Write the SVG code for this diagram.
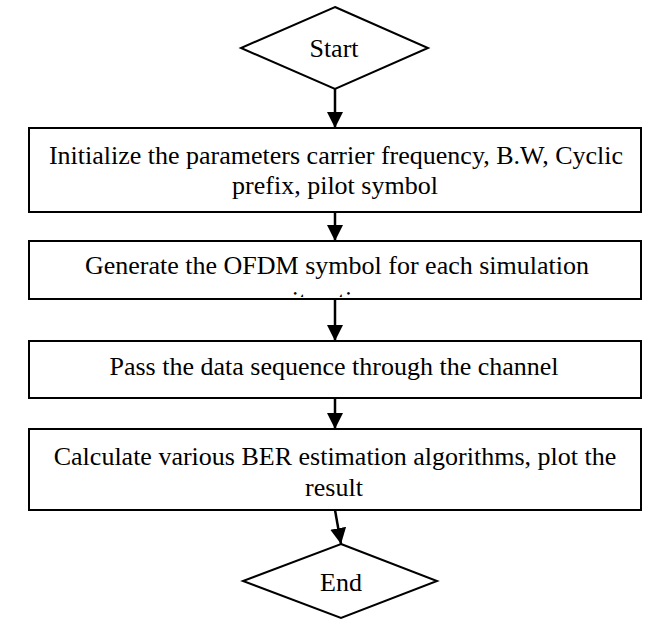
<svg xmlns="http://www.w3.org/2000/svg" width="646" height="620" viewBox="0 0 646 620">
<style>
.shape{fill:#fff;stroke:#000;stroke-width:2}
.t{font-family:"Liberation Serif","Times New Roman",serif;font-size:26px;fill:#000;text-anchor:middle}
.c{stroke:#000;stroke-width:2.5;fill:none}
</style>
<defs>
<marker id="ah" viewBox="0 0 16 16" refX="16" refY="8" markerWidth="16" markerHeight="16" markerUnits="userSpaceOnUse" orient="auto">
<path d="M0,0 L16,8 L0,16 z" fill="#000"/>
</marker>
<clipPath id="clip2"><rect x="29" y="241" width="612" height="56"/></clipPath>
</defs>
<rect width="646" height="620" fill="#fff"/>
<g id="start">
<polygon class="shape" points="335,7 428,48 335,89 241,48"/>
<text class="t" x="334" y="57">Start</text>
</g>
<g id="init">
<rect class="shape" x="29" y="128" width="612" height="84"/>
<text class="t" x="336" y="164">Initialize the parameters carrier frequency, B.W, Cyclic</text>
<text class="t" x="335" y="194">prefix, pilot symbol</text>
</g>
<g id="generate">
<rect class="shape" x="29" y="241" width="612" height="58"/>
<g clip-path="url(#clip2)">
<text class="t" x="337" y="274">Generate the OFDM symbol for each simulation</text>
<text class="t" x="335" y="309">iteration</text>
</g>
</g>
<g id="pass">
<rect class="shape" x="29" y="341" width="612" height="57"/>
<text class="t" x="334" y="375">Pass the data sequence through the channel</text>
</g>
<g id="calc">
<rect class="shape" x="29" y="429" width="612" height="81"/>
<text class="t" x="335" y="465">Calculate various BER estimation algorithms, plot the</text>
<text class="t" x="334" y="496">result</text>
</g>
<g id="end">
<polygon class="shape" points="341,544 437,581 341,618 243,581"/>
<text class="t" x="341" y="591">End</text>
</g>
<g id="connectors">
<line class="c" x1="335" y1="89" x2="335" y2="128" marker-end="url(#ah)"/>
<line class="c" x1="335" y1="212" x2="335" y2="241" marker-end="url(#ah)"/>
<line class="c" x1="335" y1="299" x2="335" y2="341" marker-end="url(#ah)"/>
<line class="c" x1="335" y1="398" x2="335" y2="429" marker-end="url(#ah)"/>
<line class="c" x1="335" y1="510" x2="341" y2="544" marker-end="url(#ah)"/>
</g>
</svg>
